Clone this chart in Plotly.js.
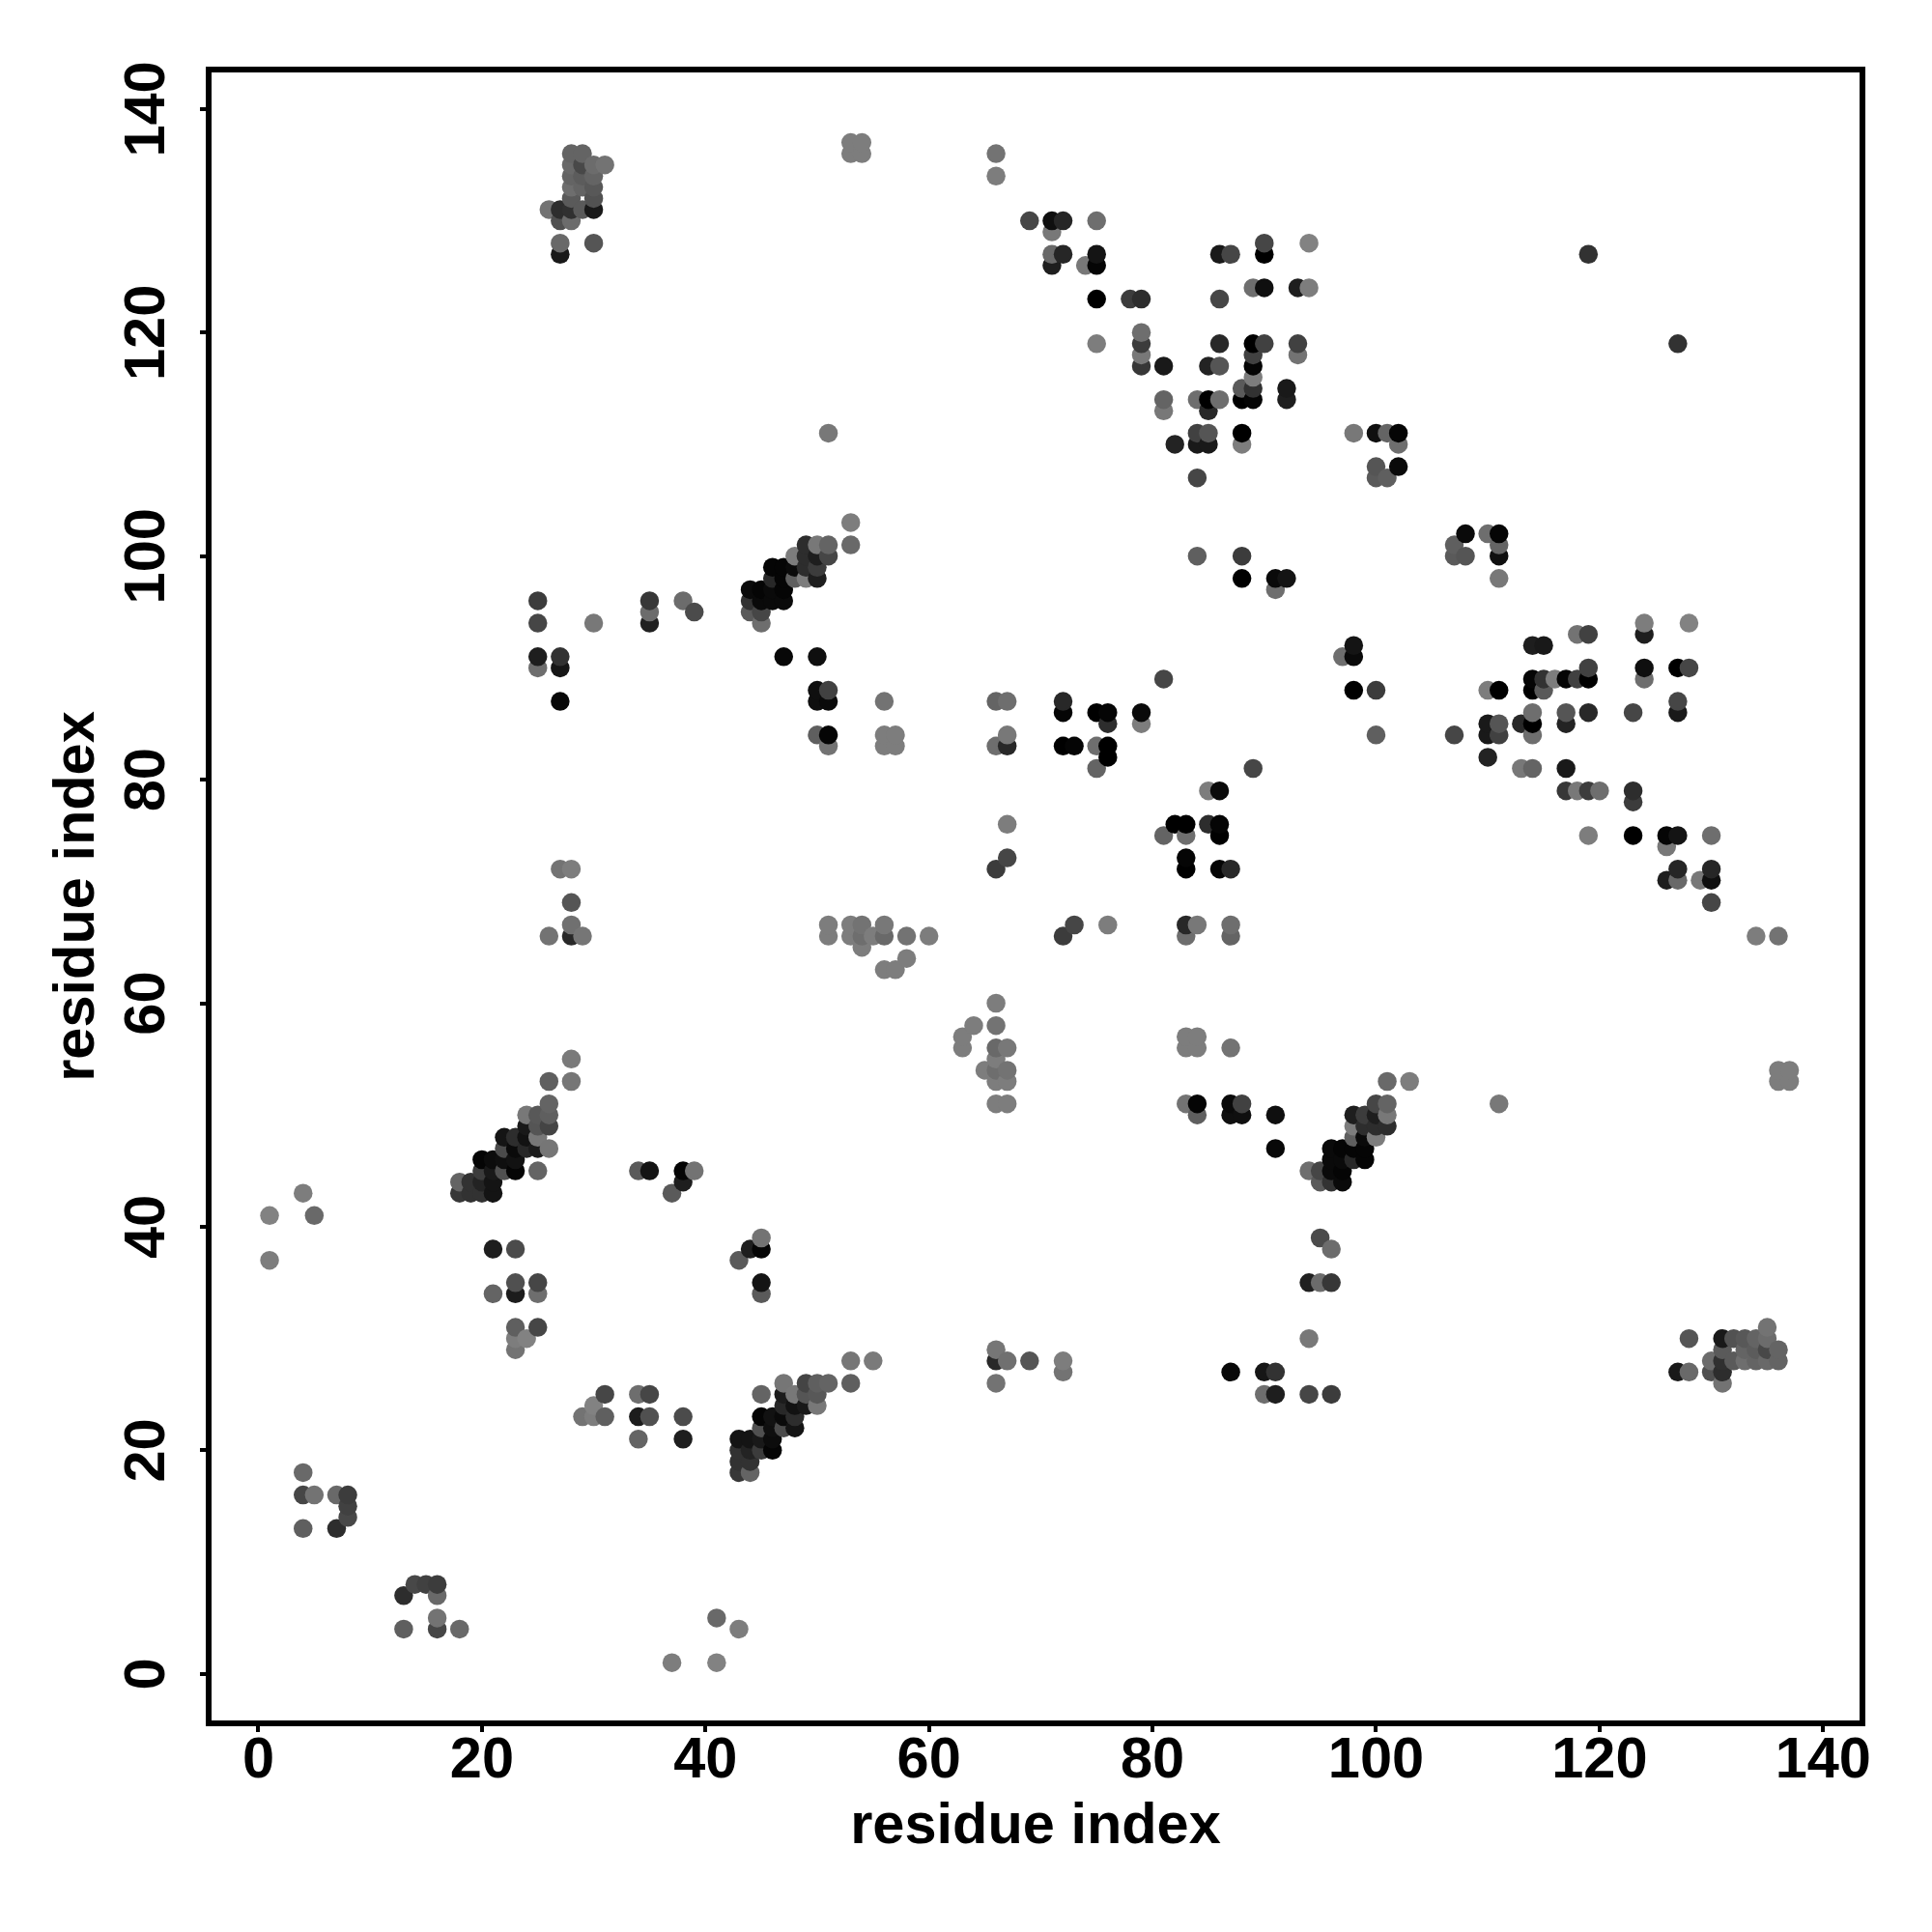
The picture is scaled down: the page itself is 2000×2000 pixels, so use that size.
<!DOCTYPE html>
<html>
<head>
<meta charset="utf-8">
<script src="https://cdn.plot.ly/plotly-3.0.1.min.js"></script>
<style>html,body{margin:0;padding:0;background:#fff}</style>
</head>
<body>
<div id="chart" style="width:2000px;height:2000px"></div>
<script>
// Contacts as residue pairs (i < j) with the grey level read for each pair.
const residueI = [
1,1, 4,4,4,4, 5,5, 7,7, 8,8,8, 18,18, 19,19, 20,20,20,20,
21,21,21,21,21,21, 22,22,22,22,
23,23,23,23,23,23,23,23,23,23, 24,24,24,24,24,
25,25,25,25,25,25,25,25,25,25,25,25, 26,26,26,26,26,26,26,
27,27,27,27,27,27,27,27, 28,28,28,28,28,28,28,28,28,28,28,28,28,
29,29,29,29,29,29, 30,30,30,30,30,30,30, 31, 34, 35,35,35,35, 37, 38,38,38, 39,39,
44,44,44, 45,45,45,45, 46,46,46,46, 47,47,47,47,47, 48,48,48, 49,49,49,49,
50,50,50,50,50,50,50,50, 51,51,51,51,51,51,51,51,51, 53,53,53,53,53,53, 54,54,54,54,54, 55,
56,56,56,56,56,56, 57,57,57, 58,58, 60, 66,66,66,66,66, 67,67,67,67,67, 69,
71,71,71,71, 72,72,72,72,72, 73, 74, 75,75,75,75,75,75,75,75, 76,76,76,76, 78,
79,79,79,79,79,79,79, 81,81,81,81, 82, 84,84,84,84,84, 85,85,85,85,85, 86,86,86,86,86, 87,
88,88,88,88,88,88, 89,89,89,89,89,89,89, 90,90,90,90, 91,91, 92,92,92, 93,93,93, 94,94,
98, 100,100,100, 101,101, 102,102,102, 119
];
const residueJ = [
37,41, 13,16,18,43, 16,41, 13,16, 14,15,16, 43,44, 43,44, 43,44,45,46,
34,38,43,44,45,46, 45,46,47,48,
29,30,31,34,35,38,45,46,47,48, 30,47,48,49,50,
31,34,35,45,47,48,49,50,90,91,94,96, 47,49,50,51,53,66,131,
72,87,90,91,127,128,130,131, 53,55,66,67,69,72,130,131,132,133,134,135,136,
66,131,133,134,135,136, 94,128,131,132,133,134,135, 135, 45, 45,94,95,96, 43, 44,45,96, 45,95,
95,96,97, 94,95,96,97, 96,97,98,99, 91,96,97,98,99, 98,99,100, 98,99,100,101,
84,87,88,91,98,99,100,101, 66,67,83,84,87,88,100,101,111, 66,67,101,103,136,137, 65,66,67,136,137, 66,
63,66,67,83,84,87, 63,83,84, 64,66, 66, 72,83,87,134,136, 73,76,83,84,87, 130,
126,127,129,130, 83,86,87,127,130, 83, 126, 81,83,86,119,123,126,127,130, 82,83,85,86, 123,
85,86,117,118,119,120,123, 89,113,114,117, 110, 100,107,110,111,114, 110,111,113,114,117, 114,117,119,123,127, 127,
98,100,110,111,114,115, 114,115,116,117,118,119,124, 119,124,127,128, 97,98, 98,114,115, 118,119,124, 124,128,
111, 107,108,111, 107,111, 108,110,111, 127
];
const greyLevel = [
125,130, 95,70,105,125, 115,105, 45,105, 72,65,60, 55,100, 50,50, 50,35,60,5,
100,30,20,20,25,12, 80,15,75,20,
115,125,95,28,80,75,5,18,10,45, 130,40,18,25,120,
70,110,70,100,28,120,85,88,110,30,70,60, 118,68,95,100,95,115,115,
115,8,22,50,25,105,80,45, 118,122,40,112,85,125,108,48,90,110,100,105,100,
118,90,100,92,72,100, 120,85,25,82,88,100,108, 115, 90, 20,32,108,55, 90, 30,5,108, 115,75,
90,50,10, 110,70,10,5, 10,10,40,5, 8,10,5,5,5, 95,10,125, 125,45,45,45,
95,15,15,15,30,60,30,120, 125,125,115,5,10,65,70,100,120, 125,125,105,125,125,125, 125,110,115,125,125, 125,
125,105,120,125,125,115, 125,125,125, 125,115, 125, 60,110,100,125,115, 70,125,40,120,110, 70,
30,105,120,15, 0,5,40,38,38, 5, 120, 100,110,0,125,0,5,20,110, 0,0,45,5, 60,
125,10,55,120,60,110,45, 70,120,100,25, 35, 95,70,25,65,110, 25,85,40,0,35, 110,85,40,70,25, 70,
0,60,125,0,0,90, 5,50,125,5,65,0,110, 65,15,0,70, 110,10, 20,30,25, 115,65,30, 125,130,
120, 90,85,15, 95,100, 10,110,5, 50
];
const axisTicks = [0, 20, 40, 60, 80, 100, 120, 140];

// The map is symmetric: each pair is drawn at (i,j) and (j,i), ordered by x then y.
const contacts = [];
residueI.forEach((a, k) => {
  contacts.push([a, residueJ[k], greyLevel[k]]);
  contacts.push([residueJ[k], a, greyLevel[k]]);
});
contacts.sort((p, q) => p[0] - q[0] || p[1] - q[1]);

const fontFamily = '"Liberation Sans", Arial, sans-serif';
const axisCommon = {
  tickmode: 'array',
  tickvals: axisTicks,
  ticktext: axisTicks.map(String),
  ticks: 'outside',
  ticklen: 6,
  tickwidth: 4,
  tickcolor: '#000',
  showline: true,
  linewidth: 6,
  linecolor: '#000',
  mirror: true,
  showgrid: false,
  zeroline: false,
  tickfont: {family: fontFamily, size: 59.5, color: '#000', weight: 'bold'}
};
const titleFont = {family: fontFamily, size: 59.5, color: '#000', weight: 'bold'};

Plotly.newPlot('chart', [{
  type: 'scatter',
  mode: 'markers',
  x: contacts.map(c => c[0]),
  y: contacts.map(c => c[1]),
  marker: {
    size: 19.5,
    line: {width: 0},
    color: contacts.map(c => `rgb(${c[2]},${c[2]},${c[2]})`)
  },
  hoverinfo: 'x+y'
}], {
  width: 2000,
  height: 2000,
  autosize: false,
  showlegend: false,
  paper_bgcolor: '#fff',
  plot_bgcolor: '#fff',
  margin: {l: 219, r: 75, t: 75, b: 219, pad: 0},
  xaxis: Object.assign({}, axisCommon, {range: [-4.19, 143.26], ticklabelstandoff: -24, title: {text: '<b>residue index</b>', font: titleFont, standoff: 16}}),
  yaxis: Object.assign({}, axisCommon, {range: [-4.17, 143.27], tickangle: -90, ticklabelstandoff: 13, ticklabelshift: 9, title: {text: '<b>residue index</b>', font: titleFont, standoff: 1}})
}, {displayModeBar: false, staticPlot: true});
</script>
</body>
</html>
